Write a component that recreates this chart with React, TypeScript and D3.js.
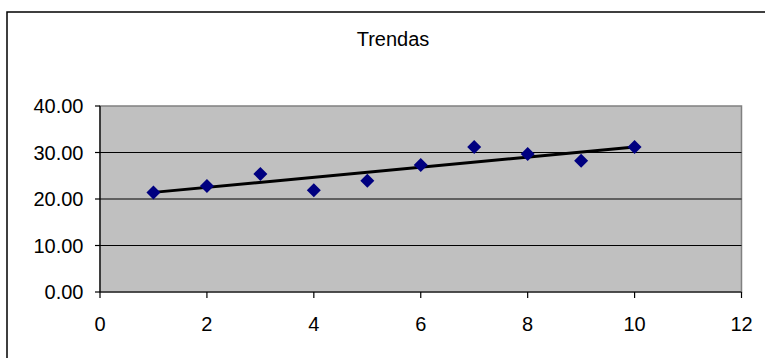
import React from "react";
import * as d3 from "d3";

const xValues = [1, 2, 3, 4, 5, 6, 7, 8, 9, 10];
const yValues = [21.4, 22.8, 25.4, 21.9, 23.9, 27.3, 31.2, 29.7, 28.2, 31.2];
const xTicks = [0, 2, 4, 6, 8, 10, 12];
const yTicks = [0, 10, 20, 30, 40];
const title = "Trendas";

const W = 765;
const H = 358;
const plot = { left: 100, right: 741.5, top: 106, bottom: 292 };

export default function App() {
  const x = d3.scaleLinear().domain([0, 12]).range([plot.left, plot.right]);
  const y = d3.scaleLinear().domain([0, 40]).range([plot.bottom, plot.top]);

  const n = xValues.length;
  const mx = d3.mean(xValues) as number;
  const my = d3.mean(yValues) as number;
  let sxy = 0;
  let sxx = 0;
  for (let i = 0; i < n; i++) {
    sxy += (xValues[i] - mx) * (yValues[i] - my);
    sxx += (xValues[i] - mx) ** 2;
  }
  const slope = sxy / sxx;
  const intercept = my - slope * mx;
  const x0 = d3.min(xValues) as number;
  const x1 = d3.max(xValues) as number;
  const trend = d3
    .line<number>()
    .x((d) => x(d))
    .y((d) => y(intercept + slope * d))([x0, x1]);

  const font = "'Liberation Sans', Arial, sans-serif";
  const ds = 7;

  return (
    <svg
      width={W}
      height={H}
      style={{ position: "absolute", left: 0, top: 0, background: "#fff" }}
      fontFamily={font}
    >
      <rect x={7} y={12} width={W + 20} height={H + 20} fill="#fff" stroke="#000" strokeWidth={1.5} />
      <text x={393} y={46} fontSize={20} textAnchor="middle" fill="#000">
        {title}
      </text>
      <rect
        x={plot.left}
        y={plot.top}
        width={plot.right - plot.left}
        height={plot.bottom - plot.top}
        fill="#C0C0C0"
        stroke="#808080"
        strokeWidth={1.5}
      />
      {yTicks.map((t) => (
        <g key={"y" + t}>
          {t > 0 && t < 40 && (
            <line x1={plot.left} x2={plot.right} y1={y(t)} y2={y(t)} stroke="#000" strokeWidth={1.2} />
          )}
          <line x1={plot.left - 5} x2={plot.left} y1={y(t)} y2={y(t)} stroke="#000" strokeWidth={1.2} />
          <text x={83.5} y={y(t) + 7} fontSize={20} textAnchor="end" fill="#000">
            {t.toFixed(2)}
          </text>
        </g>
      ))}
      <line x1={plot.left} x2={plot.left} y1={plot.top} y2={plot.bottom} stroke="#000" strokeWidth={1.2} />
      <line x1={plot.left} x2={plot.right} y1={plot.bottom} y2={plot.bottom} stroke="#000" strokeWidth={1.2} />
      {xTicks.map((t) => (
        <g key={"x" + t}>
          <line x1={x(t)} x2={x(t)} y1={plot.bottom} y2={plot.bottom + 6} stroke="#000" strokeWidth={1.2} />
          <text x={x(t)} y={331} fontSize={20} textAnchor="middle" fill="#000">
            {t}
          </text>
        </g>
      ))}
      <path d={trend || ""} stroke="#000" strokeWidth={3} fill="none" />
      {xValues.map((xv, i) => {
        const cx = x(xv);
        const cy = y(yValues[i]);
        return (
          <path
            key={"p" + i}
            d={`M${cx},${cy - ds}L${cx + ds},${cy}L${cx},${cy + ds}L${cx - ds},${cy}Z`}
            fill="#000080"
          />
        );
      })}
    </svg>
  );
}
